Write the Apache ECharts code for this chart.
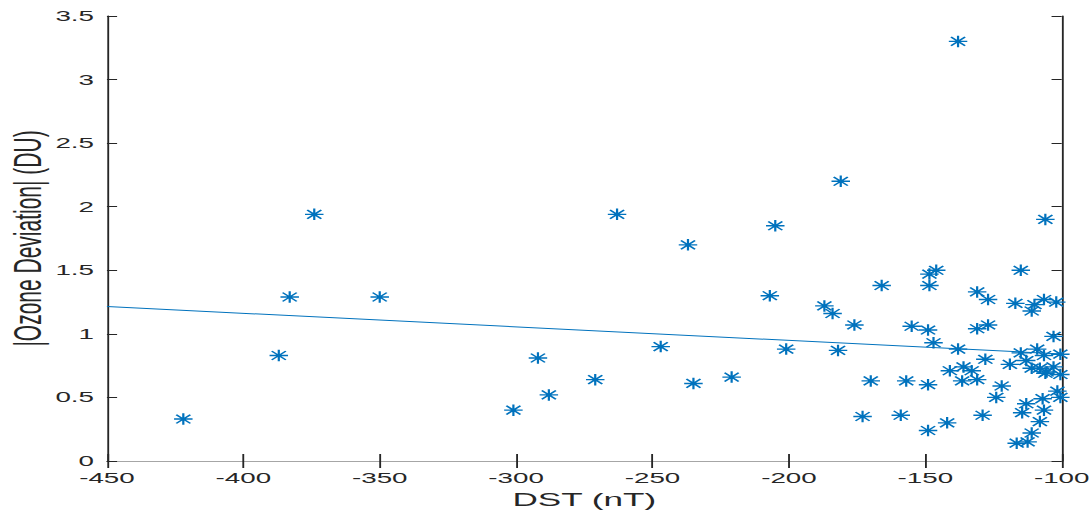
<!DOCTYPE html>
<html>
<head>
<meta charset="utf-8">
<script src="https://cdn.jsdelivr.net/npm/echarts@6/dist/echarts.min.js"></script>
<style>
  html, body { margin: 0; padding: 0; background: #fff; overflow: hidden; }
  /* the reference figure is stretched horizontally, so draw narrow and widen it */
  #chart { width: 588.6px; height: 516px; transform: scaleX(1.85); transform-origin: 0 0; }
</style>
</head>
<body>
<div id="chart"></div>
<script>
// DST (nT) of each storm
var dstValues = [
  -422, -387, -383, -374, -350, -301, -292, -288, -271, -263,
  -247, -237, -235, -221, -207, -205, -201, -187, -184, -182,
  -181, -176, -173, -170, -166, -159, -157, -155, -149, -149,
  -149, -148.5, -148.5, -147, -146, -142, -141, -138, -138, -136,
  -136.5, -133, -131, -131, -131, -129, -128, -127, -127, -124,
  -122, -119, -117, -116.5, -115, -115, -114.5, -113, -113, -112.5,
  -111, -111, -111, -110, -109, -108, -108, -107, -106.5, -106.5,
  -106.5, -106, -106, -105.5, -103, -103, -102, -101.6, -100.5, -100.5,
  -100.5
]
// |Ozone Deviation| (DU) for the same storms
var ozoneValues = [
  0.33, 0.83, 1.29, 1.94, 1.29, 0.40, 0.81, 0.52, 0.64, 1.94,
  0.90, 1.70, 0.61, 0.66, 1.30, 1.85, 0.88, 1.22, 1.16, 0.87,
  2.20, 1.07, 0.35, 0.63, 1.38, 0.36, 0.63, 1.06, 1.03, 0.60,
  0.24, 1.47, 1.38, 0.93, 1.50, 0.30, 0.71, 3.30, 0.88, 0.74,
  0.63, 0.71, 1.33, 1.04, 0.64, 0.36, 0.80, 1.27, 1.07, 0.50,
  0.59, 0.76, 1.24, 0.14, 1.50, 0.85, 0.38, 0.79, 0.45, 0.15,
  1.18, 0.73, 0.22, 1.23, 0.88, 0.73, 0.31, 0.49, 1.27, 0.83,
  0.40, 1.90, 0.69, 0.70, 0.98, 0.74, 1.25, 0.55, 0.84, 0.68,
  0.50
]
// least squares line end points
var fitX = [-450, -100]
var fitY = [1.215, 0.842]

var xTicks = [-450, -400, -350, -300, -250, -200, -150, -100]
var yTicks = [0, 0.5, 1, 1.5, 2, 2.5, 3, 3.5]

var blue = '#0072BD'
var dark = '#262626'
var asterisk = 'path://M0 44H100V56H0Z M44 0H56V100H44Z M8 16L16 8L92 84L84 92Z M84 8L92 16L16 92L8 84Z'

var points = dstValues.map(function(d, i) {
  return [d, ozoneValues[i]]
})
var fitLine = fitX.map(function(d, i) {
  return [d, fitY[i]]
})

var chart = echarts.init(document.getElementById('chart'), null, { renderer: 'svg' })
var font = 'Liberation Sans, Arial, Helvetica, sans-serif'

chart.setOption({
  animation: false,
  backgroundColor: '#fff',
  grid: {
    left: 57.8,
    right: 15.1,
    top: 16,
    bottom: 55,
    containLabel: false,
    outerBoundsMode: 'none'
  },
  xAxis: [
    {
      type: 'value',
      min: xTicks[0],
      max: xTicks[xTicks.length - 1],
      interval: 50,
      name: 'DST (nT)',
      nameLocation: 'middle',
      nameGap: 19,
      nameTextStyle: { color: dark, fontSize: 19, fontFamily: font },
      axisLine: { show: true, lineStyle: { color: dark, width: 1 } },
      axisTick: { show: true, inside: true, length: 7, lineStyle: { color: dark } },
      axisLabel: { color: dark, fontSize: 15, fontFamily: font, margin: 9 },
      splitLine: { show: false }
    },
    {
      type: 'value',
      position: 'top',
      min: xTicks[0],
      max: xTicks[xTicks.length - 1],
      interval: 50,
      axisLine: { show: true, lineStyle: { color: '#a6a6a6', width: 1 } },
      axisTick: { show: true, inside: true, length: 7, lineStyle: { color: dark } },
      axisLabel: { show: false },
      splitLine: { show: false }
    }
  ],
  yAxis: [
    {
      type: 'value',
      min: yTicks[0],
      max: yTicks[yTicks.length - 1],
      interval: 0.5,
      name: '|Ozone Deviation| (DU)',
      nameLocation: 'middle',
      nameGap: 32,
      nameMoveOverlap: false,
      nameTextStyle: { color: dark, fontSize: 21, fontFamily: font },
      axisLine: { show: true, lineStyle: { color: dark, width: 1 } },
      axisTick: { show: true, inside: true, length: 5.5, lineStyle: { color: dark } },
      axisLabel: { color: dark, fontSize: 15, fontFamily: font, margin: 7 },
      splitLine: { show: false }
    },
    {
      type: 'value',
      position: 'right',
      min: yTicks[0],
      max: yTicks[yTicks.length - 1],
      interval: 0.5,
      axisLine: { show: true, lineStyle: { color: dark, width: 1 } },
      axisTick: { show: true, inside: true, length: 5.5, lineStyle: { color: dark } },
      axisLabel: { show: false },
      splitLine: { show: false }
    }
  ],
  series: [
    {
      type: 'line',
      data: fitLine,
      symbol: 'none',
      lineStyle: { color: blue, width: 1 },
      z: 2
    },
    {
      type: 'scatter',
      data: points,
      symbol: asterisk,
      symbolSize: [10, 11.5],
      itemStyle: { color: blue, opacity: 1 },
      z: 3
    }
  ]
})
</script>
</body>
</html>
